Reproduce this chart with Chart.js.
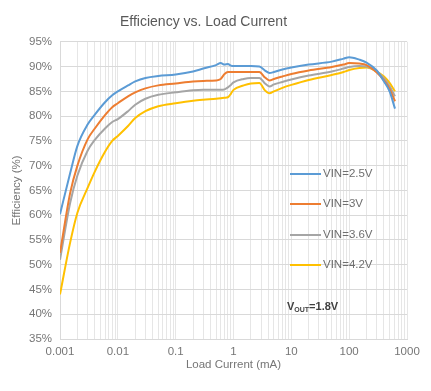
<!DOCTYPE html>
<html lang="en">
<head>
<meta charset="utf-8">
<title>Efficiency vs. Load Current</title>
<script src="https://cdn.jsdelivr.net/npm/chart.js@4.4.1/dist/chart.umd.min.js"></script>
<style>
  html, body { margin: 0; padding: 0; background: #fff; }
  #wrap { width: 431px; height: 391px; }
</style>
</head>
<body>
<div id="wrap"><canvas id="chart" width="431" height="391"></canvas></div>
<script>
// load current (mA), shared by all curves
var loadCurrent = [0.001, 0.0015, 0.002, 0.003, 0.004, 0.006, 0.008, 0.01, 0.015, 0.02, 0.03, 0.05,
  0.1, 0.2, 0.3, 0.5, 0.6, 0.7, 0.8, 0.9, 1, 1.5, 2, 2.8, 3.5, 4.2, 5, 7, 10, 20, 50, 80,
  100, 150, 200, 300, 400, 500, 620];

// efficiency (%)
var vin25 = [60.2, 68.5, 74.0, 78.3, 80.3, 82.8, 84.2, 85.0, 86.2, 87.0, 87.7, 88.1,
  88.4, 89.0, 89.6, 90.3, 90.7, 90.4, 90.5, 90.2, 90.1, 90.1, 90.1, 90.0, 89.2, 88.7, 88.9, 89.4, 89.8, 90.4, 91.0, 91.6,
  91.9, 91.4, 90.8, 89.2, 87.0, 85.0, 81.5];
var vin3 = [52.4, 64.5, 70.0, 75.3, 77.5, 80.2, 81.8, 82.6, 84.0, 84.8, 85.6, 86.2,
  86.6, 87.0, 87.1, 87.2, 87.5, 88.5, 88.9, 88.9, 88.9, 88.9, 88.9, 88.9, 87.8, 87.2, 87.5, 88.0, 88.5, 89.2, 89.9, 90.4,
  90.7, 90.6, 90.3, 88.8, 87.2, 85.5, 83.0];
var vin36 = [51.0, 62.5, 68.0, 73.0, 75.2, 77.5, 78.8, 79.4, 81.0, 82.3, 83.5, 84.3,
  84.8, 85.2, 85.3, 85.3, 85.3, 85.4, 85.8, 86.3, 86.8, 87.5, 87.7, 87.7, 86.6, 86.0, 86.4, 86.9, 87.4, 88.2, 89.0, 89.6,
  89.9, 90.1, 90.0, 89.0, 87.6, 86.0, 84.0];
var vin42 = [44.0, 54.5, 60.5, 65.5, 68.8, 72.8, 75.0, 76.0, 78.0, 79.6, 81.0, 82.0,
  82.6, 83.1, 83.3, 83.5, 83.6, 83.7, 83.8, 84.5, 85.3, 86.2, 86.6, 86.7, 85.2, 84.6, 85.0, 85.7, 86.3, 87.3, 88.3, 88.9,
  89.3, 89.7, 89.8, 89.0, 88.0, 86.7, 85.0];

var seriesNames = ['VIN=2.5V', 'VIN=3V', 'VIN=3.6V', 'VIN=4.2V'];
var seriesColors = ['#5B9BD5', '#ED7D31', '#A5A5A5', '#FFC000'];
var xTickLabels = ['0.001', '0.01', '0.1', '1', '10', '100', '1000'];
var yMin = 35, yMax = 95, yStep = 5;

function pts(vals) {
  return vals.map(function (v, i) { return { x: loadCurrent[i], y: v }; });
}

var allSeries = [vin25, vin3, vin36, vin42];
var datasets = allSeries.map(function (vals, i) {
  return {
    label: seriesNames[i],
    data: pts(vals),
    borderColor: seriesColors[i],
    backgroundColor: seriesColors[i],
    borderWidth: 2,
    pointRadius: 0,
    fill: false,
    cubicInterpolationMode: 'monotone'
  };
});

// legend + VOUT note drawn inside the plot area
var insideLegend = {
  id: 'insideLegend',
  afterDatasetsDraw: function (chart) {
    var ctx = chart.ctx;
    var rows = [174, 204, 235, 265];
    ctx.save();
    ctx.font = '11.5px "Liberation Sans", Arial, sans-serif';
    ctx.textBaseline = 'middle';
    chart.data.datasets.forEach(function (ds, i) {
      ctx.strokeStyle = ds.borderColor;
      ctx.lineWidth = 2;
      ctx.beginPath();
      ctx.moveTo(290, rows[i]);
      ctx.lineTo(321, rows[i]);
      ctx.stroke();
      ctx.fillStyle = '#6E6E6E';
      ctx.fillText(ds.label, 323, rows[i]);
    });
    // V_OUT=1.8V
    var x = 287, y = 307;
    ctx.fillStyle = '#404040';
    ctx.font = 'bold 11px "Liberation Sans", Arial, sans-serif';
    ctx.fillText('V', x, y);
    x += ctx.measureText('V').width;
    ctx.font = 'bold 7px "Liberation Sans", Arial, sans-serif';
    ctx.fillText('OUT', x, y + 3);
    x += ctx.measureText('OUT').width;
    ctx.font = 'bold 11px "Liberation Sans", Arial, sans-serif';
    ctx.fillText('=1.8V', x, y);
    ctx.restore();
  }
};

var tickFont = { family: '"Liberation Sans", Arial, sans-serif', size: 11.5 };
var tickColor = '#767676';

new Chart(document.getElementById('chart').getContext('2d'), {
  type: 'line',
  data: { datasets: datasets },
  options: {
    responsive: false,
    devicePixelRatio: 1,
    animation: false,
    layout: { padding: { left: 0, right: 24, top: 0, bottom: 0 } },
    plugins: {
      legend: { display: false },
      tooltip: { enabled: false },
      title: {
        display: true,
        text: 'Efficiency vs. Load Current',
        color: '#595959',
        font: { family: '"Liberation Sans", Arial, sans-serif', size: 14, weight: 'normal' },
        padding: { top: 14, bottom: 11 }
      }
    },
    scales: {
      x: {
        type: 'logarithmic',
        min: parseFloat(xTickLabels[0]),
        max: parseFloat(xTickLabels[xTickLabels.length - 1]),
        afterBuildTicks: function (scale) {
          var t = [];
          for (var i = 0; i < xTickLabels.length - 1; i++) {
            var d = parseFloat(xTickLabels[i]);
            for (var m = 1; m <= 9; m++) t.push({ value: d * m });
          }
          t.push({ value: parseFloat(xTickLabels[xTickLabels.length - 1]) });
          scale.ticks = t;
        },
        afterFit: function (scale) { scale.height = 52; scale.paddingLeft = 0; scale.paddingRight = 0; },
        ticks: {
          autoSkip: false,
          maxRotation: 0,
          padding: 6,
          color: tickColor,
          font: tickFont,
          callback: function (value) {
            for (var i = 0; i < xTickLabels.length; i++) {
              if (parseFloat(xTickLabels[i]) === value) return xTickLabels[i];
            }
            return '';
          }
        },
        grid: { color: '#E6E6E6', lineWidth: 1, drawTicks: false },
        border: { color: '#D9D9D9' },
        title: {
          display: true,
          text: 'Load Current (mA)',
          color: tickColor,
          font: tickFont,
          padding: { top: 0, bottom: 19 }
        }
      },
      y: {
        min: yMin,
        max: yMax,
        afterFit: function (scale) { scale.width = 60; },
        ticks: {
          stepSize: yStep,
          padding: 8,
          color: tickColor,
          font: tickFont,
          callback: function (v) { return v + '%'; }
        },
        grid: { color: '#D9D9D9', lineWidth: 1, drawTicks: false },
        border: { color: '#D9D9D9' },
        title: {
          display: true,
          text: 'Efficiency (%)',
          color: tickColor,
          font: tickFont,
          padding: { top: 10, bottom: 0 }
        }
      }
    }
  },
  plugins: [insideLegend]
});
</script>
</body>
</html>
